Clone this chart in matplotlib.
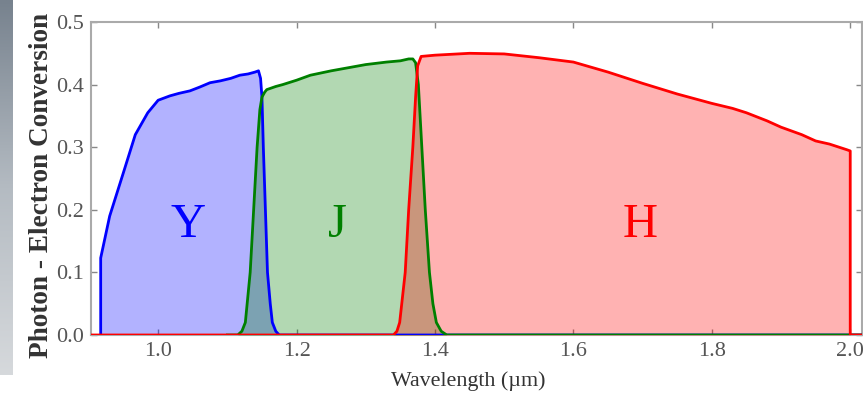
import numpy as np
import matplotlib
matplotlib.use("Agg")
import matplotlib.pyplot as plt
from matplotlib.colors import LinearSegmentedColormap

# ---- data ----
y_wl = [0.917, 0.917, 0.93, 0.95, 0.967, 0.985, 1.0, 1.017, 1.03, 1.046, 1.06, 1.075, 1.09,
        1.105, 1.118, 1.13, 1.14, 1.145, 1.148, 1.150, 1.152, 1.155, 1.158, 1.162, 1.165,
        1.170, 1.175, 1.25, 1.35, 1.45, 1.6, 1.8, 2.0, 2.02]
y_val = [0.0, 0.123, 0.19, 0.26, 0.32, 0.355, 0.375, 0.382, 0.386, 0.39, 0.396, 0.403, 0.406,
         0.41, 0.415, 0.417, 0.42, 0.422, 0.41, 0.38, 0.30, 0.20, 0.10, 0.05, 0.02,
         0.006, 0.0, 0.0, 0.0, 0.0, 0.0, 0.0, 0.0, 0.0]

j_wl = [1.10, 1.115, 1.121, 1.126, 1.133, 1.138, 1.143, 1.147, 1.150, 1.154, 1.157, 1.17,
        1.18, 1.20, 1.22, 1.25, 1.28, 1.30, 1.33, 1.35, 1.362, 1.368, 1.372, 1.376,
        1.381, 1.386, 1.392, 1.397, 1.402, 1.409, 1.417, 1.5, 1.7, 1.9, 2.0, 2.02]
j_val = [0.0, 0.0, 0.006, 0.02, 0.10, 0.20, 0.30, 0.36, 0.38, 0.388, 0.392, 0.397,
         0.40, 0.407, 0.415, 0.422, 0.428, 0.432, 0.436, 0.438, 0.441, 0.441, 0.435, 0.40,
         0.30, 0.20, 0.10, 0.05, 0.02, 0.006, 0.0, 0.0, 0.0, 0.0, 0.0, 0.0]

h_wl = [0.90, 1.0, 1.2, 1.34, 1.345, 1.349, 1.357, 1.362, 1.368, 1.372, 1.375, 1.38,
        1.40, 1.45, 1.50, 1.55, 1.60, 1.65, 1.70, 1.75, 1.80, 1.83, 1.85, 1.88, 1.90,
        1.93, 1.95, 1.97, 1.995, 2.0, 2.0, 2.02]
h_val = [0.0, 0.0, 0.0, 0.0, 0.006, 0.02, 0.10, 0.20, 0.30, 0.38, 0.43, 0.445,
         0.447, 0.45, 0.449, 0.443, 0.436, 0.42, 0.402, 0.385, 0.37, 0.362, 0.355, 0.342, 0.332,
         0.32, 0.31, 0.305, 0.296, 0.294, 0.0, 0.0]

band_names = ["Y", "J", "H"]
band_colors = ["#0000ff", "#008000", "#ff0000"]
label_x = [1.043, 1.259, 1.697]
label_y = [0.176, 0.175, 0.176]

xticks = [1.0, 1.2, 1.4, 1.6, 1.8, 2.0]
yticks = [0.0, 0.1, 0.2, 0.3, 0.4, 0.5]

# ---- figure ----
W, H = 863, 395
fig = plt.figure(figsize=(W / 100, H / 100), dpi=100)
plt.rcParams['font.family'] = ['Liberation Serif', 'DejaVu Serif']

# gradient strip at the left edge
gax = fig.add_axes([0, 1 - 375 / H, 12 / W, 375 / H])
grad = np.linspace(0, 1, 256).reshape(-1, 1)
cmap = LinearSegmentedColormap.from_list("g", ["#77828e", "#b4bbc2", "#d6d9dc"])
gax.imshow(grad, aspect="auto", cmap=cmap, extent=[0, 1, 0, 1], origin="upper")
gax.axis("off")

ax = fig.add_axes([91 / W, 1 - 335 / H, (862 - 91) / W, (335 - 22) / H])
xs = [y_wl, j_wl, h_wl]
vs = [y_val, j_val, h_val]
for i, (x, v, c) in enumerate(zip(xs, vs, band_colors)):
    ax.fill_between(x, v, 0, color=c, alpha=0.3, lw=0, zorder=2 + i)
    ax.plot(x, v, color=c, lw=2.0, zorder=5 + i, solid_joinstyle="round")

for name, c, lx, ly in zip(band_names, band_colors, label_x, label_y):
    ax.text(lx, ly, name, color=c, fontsize=35, ha="center", va="center", zorder=10)

ax.set_xlim(0.903, 2.017)
ax.set_ylim(0, 0.5)
ax.set_xticks(xticks)
ax.set_xticklabels(["%.1f" % t for t in xticks])
ax.set_yticks(yticks)
ax.set_yticklabels(["%.1f" % t for t in yticks])
ax.tick_params(direction="in", top=True, right=True, length=4, width=1,
               color="#888888", labelcolor="#555555", labelsize=16, pad=5)
for s in ax.spines.values():
    s.set_color("#aaaaaa")
    s.set_linewidth(1.5)

fig.text(468 / W, 1 - 381 / H, "Wavelength (µm)", ha="center", va="center",
         fontsize=15.8, color="#333333")
fig.text(42 / W, 1 - 358 / H, "Photon - Electron Conversion", rotation=90,
         ha="center", va="bottom", fontsize=19.6, color="#333333", fontweight="bold")

fig.savefig("out.png", dpi=100)
